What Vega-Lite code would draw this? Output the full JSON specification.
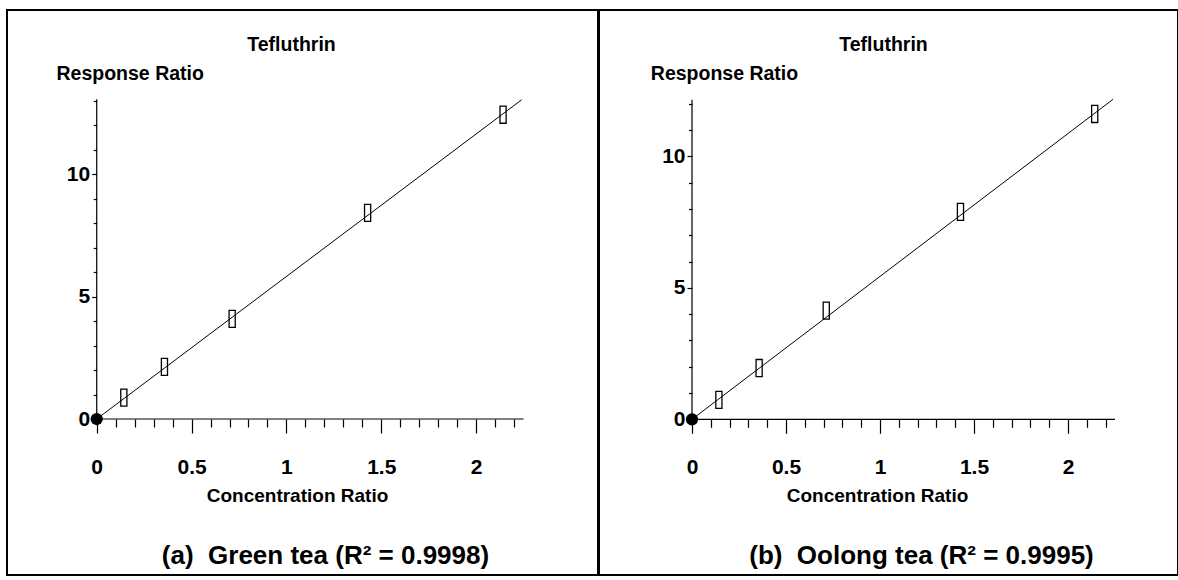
{
  "$schema": "https://vega.github.io/schema/vega-lite/v6.json",
  "padding": {"left": 6, "top": 9, "right": 0, "bottom": 0},
  "background": "white",
  "spacing": -2,
  "datasets": {
    "green": [
      {"conc": 0, "resp": 0},
      {"conc": 0.143, "resp": 0.87},
      {"conc": 0.357, "resp": 2.13},
      {"conc": 0.714, "resp": 4.09},
      {"conc": 1.428, "resp": 8.41},
      {"conc": 2.142, "resp": 12.42}
    ],
    "greenFit": [
      {"conc": 0, "fit": 0},
      {"conc": 2.24, "fit": 13.03}
    ],
    "oolong": [
      {"conc": 0, "resp": 0},
      {"conc": 0.143, "resp": 0.74},
      {"conc": 0.357, "resp": 1.95},
      {"conc": 0.714, "resp": 4.13},
      {"conc": 1.428, "resp": 7.89},
      {"conc": 2.142, "resp": 11.61}
    ],
    "oolongFit": [
      {"conc": 0, "fit": 0},
      {"conc": 2.24, "fit": 12.17}
    ],
    "one": [{}]
  },
  "hconcat": [
    {
      "width": 591,
      "height": 565,
      "view": {"stroke": "black", "strokeWidth": 2},
      "title": {"text": "(a)\u00a0 Green tea (R² = 0.9998)", "orient": "bottom", "anchor": "middle", "offset": -11, "dx": 23, "baseline": "alphabetic", "font": "Liberation Sans", "fontSize": 26, "fontWeight": "bold", "color": "black"},
      "resolve": {"axis": {"x": "independent"}},
      "layer": [
        {
          "data": {"name": "greenFit"},
          "mark": {"type": "line", "color": "black", "strokeWidth": 1},
          "encoding": {
            "x": {"field": "conc", "type": "quantitative",
              "scale": {"domain": [-0.4729, 2.6425], "nice": false, "zero": false},
              "axis": {"orient": "bottom", "offset": -156,
                "values": [0, 0.1, 0.2, 0.3, 0.4, 0.5, 0.6, 0.7, 0.8, 0.9, 1, 1.1, 1.2, 1.3, 1.4, 1.5, 1.6, 1.7, 1.8, 1.9, 2, 2.1, 2.2],
                "tickSize": {"condition": {"test": "abs(datum.value*2-round(datum.value*2))<0.001", "value": 14}, "value": 8},
                "labelExpr": "abs(datum.value*2-round(datum.value*2))<0.001 ? '' + datum.value : ''",
                "labelBaseline": "top", "labelPadding": 23,
                "title": "Concentration Ratio", "titleX": 290, "titleY": 82, "titleAlign": "center", "titleBaseline": "alphabetic", "titleAngle": 0}},
            "y": {"field": "fit", "type": "quantitative",
              "scale": {"domain": [-6.367, 16.694], "nice": false, "zero": false},
              "axis": {"orient": "left", "offset": -89.7,
                "values": [0, 1, 2, 3, 4, 5, 6, 7, 8, 9, 10, 11, 12, 13],
                "tickSize": {"condition": {"test": "datum.value % 5 === 0", "value": 5}, "value": 3.5},
                "labelExpr": "datum.value % 5 === 0 ? '' + datum.value : ''",
                "labelAlign": "right", "labelBaseline": "middle", "labelPadding": 2,
                "title": "Response Ratio", "titleFontSize": 19.5, "titleX": 33, "titleY": 69, "titleAlign": "center", "titleBaseline": "alphabetic", "titleAngle": 0}}
          }
        },
        {
          "data": {"name": "one"},
          "mark": {"type": "rule", "color": "black", "strokeWidth": 1.2},
          "encoding": {
            "x": {"datum": 0, "type": "quantitative", "axis": null},
            "y": {"datum": 0, "type": "quantitative"},
            "y2": {"datum": 13.05}
          }
        },
        {
          "data": {"name": "one"},
          "mark": {"type": "rule", "color": "black", "strokeWidth": 1.2},
          "encoding": {
            "x": {"datum": 0, "type": "quantitative", "axis": null},
            "x2": {"datum": 2.25},
            "y": {"datum": 0, "type": "quantitative"}
          }
        },
        {
          "data": {"name": "green"},
          "transform": [{"filter": "datum.conc > 0"}],
          "mark": {"type": "point", "shape": "M-0.36,-1H0.36V1H-0.36Z", "size": 290, "filled": false, "stroke": "black", "strokeWidth": 1.3, "opacity": 1},
          "encoding": {
            "x": {"field": "conc", "type": "quantitative",
              "axis": {"orient": "top", "ticks": false, "labels": false, "domain": false,
                "title": "Tefluthrin", "titleFontSize": 19.5, "titleX": 284, "titleY": 40, "titleAlign": "center", "titleBaseline": "alphabetic", "titleAngle": 0}},
            "y": {"field": "resp", "type": "quantitative"}
          }
        },
        {
          "data": {"name": "green"},
          "transform": [{"filter": "datum.conc == 0"}],
          "mark": {"type": "point", "shape": "circle", "size": 150, "filled": true, "color": "black", "opacity": 1},
          "encoding": {
            "x": {"field": "conc", "type": "quantitative", "axis": null},
            "y": {"field": "resp", "type": "quantitative"}
          }
        }
      ]
    },
    {
      "width": 579,
      "height": 565,
      "view": {"stroke": "black", "strokeWidth": 2},
      "title": {"text": "(b)\u00a0 Oolong tea (R² = 0.9995)", "orient": "bottom", "anchor": "middle", "offset": -11, "dx": 33, "baseline": "alphabetic", "font": "Liberation Sans", "fontSize": 26, "fontWeight": "bold", "color": "black"},
      "resolve": {"axis": {"x": "independent"}},
      "layer": [
        {
          "data": {"name": "oolongFit"},
          "mark": {"type": "line", "color": "black", "strokeWidth": 1},
          "encoding": {
            "x": {"field": "conc", "type": "quantitative",
              "scale": {"domain": [-0.4947, 2.5851], "nice": false, "zero": false},
              "axis": {"orient": "bottom", "offset": -155.7,
                "values": [0, 0.1, 0.2, 0.3, 0.4, 0.5, 0.6, 0.7, 0.8, 0.9, 1, 1.1, 1.2, 1.3, 1.4, 1.5, 1.6, 1.7, 1.8, 1.9, 2, 2.1, 2.2],
                "tickSize": {"condition": {"test": "abs(datum.value*2-round(datum.value*2))<0.001", "value": 14}, "value": 8},
                "labelExpr": "abs(datum.value*2-round(datum.value*2))<0.001 ? '' + datum.value : ''",
                "labelBaseline": "top", "labelPadding": 23,
                "title": "Concentration Ratio", "titleX": 278, "titleY": 82, "titleAlign": "center", "titleBaseline": "alphabetic", "titleAngle": 0}},
            "y": {"field": "fit", "type": "quantitative",
              "scale": {"domain": [-5.92, 15.563], "nice": false, "zero": false},
              "axis": {"orient": "left", "offset": -93,
                "values": [0, 1, 2, 3, 4, 5, 6, 7, 8, 9, 10, 11, 12],
                "tickSize": {"condition": {"test": "datum.value % 5 === 0", "value": 5}, "value": 3.5},
                "labelExpr": "datum.value % 5 === 0 ? '' + datum.value : ''",
                "labelAlign": "right", "labelBaseline": "middle", "labelPadding": 2,
                "title": "Response Ratio", "titleFontSize": 19.5, "titleX": 32, "titleY": 69, "titleAlign": "center", "titleBaseline": "alphabetic", "titleAngle": 0}}
          }
        },
        {
          "data": {"name": "one"},
          "mark": {"type": "rule", "color": "black", "strokeWidth": 1.2},
          "encoding": {
            "x": {"datum": 0, "type": "quantitative", "axis": null},
            "y": {"datum": 0, "type": "quantitative"},
            "y2": {"datum": 12.15}
          }
        },
        {
          "data": {"name": "one"},
          "mark": {"type": "rule", "color": "black", "strokeWidth": 1.2},
          "encoding": {
            "x": {"datum": 0, "type": "quantitative", "axis": null},
            "x2": {"datum": 2.25},
            "y": {"datum": 0, "type": "quantitative"}
          }
        },
        {
          "data": {"name": "oolong"},
          "transform": [{"filter": "datum.conc > 0"}],
          "mark": {"type": "point", "shape": "M-0.36,-1H0.36V1H-0.36Z", "size": 290, "filled": false, "stroke": "black", "strokeWidth": 1.3, "opacity": 1},
          "encoding": {
            "x": {"field": "conc", "type": "quantitative",
              "axis": {"orient": "top", "ticks": false, "labels": false, "domain": false,
                "title": "Tefluthrin", "titleFontSize": 19.5, "titleX": 284, "titleY": 40, "titleAlign": "center", "titleBaseline": "alphabetic", "titleAngle": 0}},
            "y": {"field": "resp", "type": "quantitative"}
          }
        },
        {
          "data": {"name": "oolong"},
          "transform": [{"filter": "datum.conc == 0"}],
          "mark": {"type": "point", "shape": "circle", "size": 150, "filled": true, "color": "black", "opacity": 1},
          "encoding": {
            "x": {"field": "conc", "type": "quantitative", "axis": null},
            "y": {"field": "resp", "type": "quantitative"}
          }
        }
      ]
    }
  ],
  "config": {
    "font": "Liberation Sans",
    "axis": {
      "grid": false,
      "domain": false,
      "tickColor": "black",
      "tickWidth": 1.2,
      "labelFont": "Liberation Sans",
      "labelFontSize": 21,
      "labelFontWeight": "bold",
      "labelColor": "black",
      "labelFlush": false,
      "labelOverlap": false,
      "titleFont": "Liberation Sans",
      "titleFontSize": 19,
      "titleFontWeight": "bold",
      "titleColor": "black"
    }
  }
}
